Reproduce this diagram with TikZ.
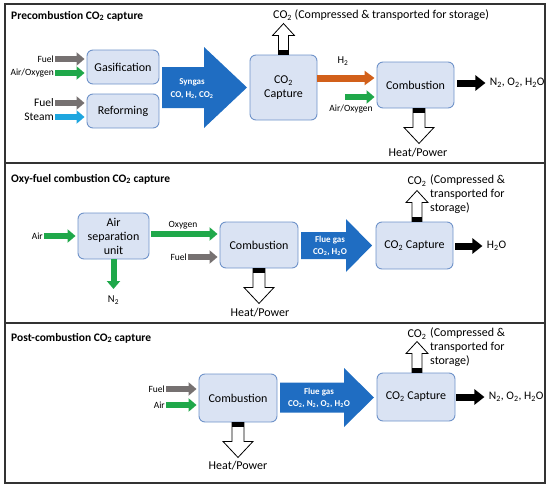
\documentclass[tikz,border=0pt]{standalone}
\usepackage{fontspec}
\setmainfont{Carlito}
\usetikzlibrary{arrows.meta, positioning}

\definecolor{boxfill}{HTML}{DAE3F3}
\definecolor{boxline}{HTML}{6F93C9}
\definecolor{flowblue}{HTML}{1F6DC2}
\definecolor{fuelgray}{HTML}{767171}
\definecolor{airgreen}{HTML}{1FA84A}
\definecolor{steamblue}{HTML}{1EA6DF}
\definecolor{htwoorange}{HTML}{D2601A}

\begin{document}
\begin{tikzpicture}[x=1pt,y=-1pt,
  unit/.style={draw=boxline,fill=boxfill,rounded corners=6pt,line width=0.9pt,align=center,inner sep=0pt,font=\fontsize{12}{14}\selectfont},
  small/.style={font=\fontsize{9.5}{11}\selectfont,inner sep=1pt},
  mid/.style={font=\fontsize{11.5}{13}\selectfont,inner sep=1pt},
  big/.style={font=\fontsize{12}{14}\selectfont,inner sep=0pt},
  title/.style={anchor=west,font=\bfseries\fontsize{11.5}{13}\selectfont,inner sep=0pt},
  flowtxt/.style={text=white,align=center,font=\bfseries\fontsize{9}{12.5}\selectfont,inner sep=0pt},
  feed/.style={line width=6pt,-{Triangle[length=8pt,width=13pt]},shorten >=2pt},
  heatout/.pic={
    \draw[fill=white,line width=0.8pt] (-6,0) -- (-6,19) -- (-15,19) -- (0,35) -- (15,19) -- (6,19) -- (6,0) -- cycle;
    \fill (-6,0) rectangle (6,5);
  },
  co2out/.pic={
    \draw[fill=white,line width=0.8pt] (-5,0) -- (-5,-19) -- (-11,-19) -- (0,-31) -- (11,-19) -- (5,-19) -- (5,0) -- cycle;
    \fill (-5,0) rectangle (5,-5);
  }]
\useasboundingbox (0,0) rectangle (550,490);

% panel frames
\foreach \ya/\yb in {4/163,163/323,323/483} {\draw[line width=1.2pt,black!80] (5,\ya) rectangle (545,\yb);}

% big flow arrows
\foreach \xa/\xh/\xb/\yc/\bh/\hh in {162/204/247/87.5/20.5/40.5,301/346/372/245.5/13.5/26.5,280/344/374/397.5/15/29.5}
  {\fill[flowblue] (\xa,\yc-\bh) -- (\xh,\yc-\bh) -- (\xh,\yc-\hh) -- (\xb,\yc) -- (\xh,\yc+\hh) -- (\xh,\yc+\bh) -- (\xa,\yc+\bh) -- cycle;}

%% Precombustion
\node[title] (t1) at (11,16) {Precombustion CO\textsubscript{2} capture};
\node[unit,minimum width=72pt,minimum height=34pt] (gas) at (123,67) {Gasification};
\node[unit,minimum width=72pt,minimum height=34pt] (ref) at (123,111) {Reforming};
\node[small,anchor=east] (fuelA) at (55,59) {Fuel};
\node[small,anchor=east] (airA) at (55,73) {Air/Oxygen};
\node[mid,anchor=east] (fuelB) at (55,103) {Fuel};
\node[mid,anchor=east] (steam) at (55,117) {Steam};
\draw[feed,fuelgray] (fuelA.east) -- (fuelA.east -| gas.west);
\draw[feed,airgreen] (airA.east) -- (airA.east -| gas.west);
\draw[feed,fuelgray] (fuelB.east) -- (fuelB.east -| ref.west);
\draw[feed,steamblue] (steam.east) -- (steam.east -| ref.west);
\node[flowtxt] (syn) at (192,88.5) {Syngas\\CO, H\textsubscript{2}, CO\textsubscript{2}};
\node[unit,minimum width=67pt,minimum height=65pt] (cap1) at (283.5,87.5) {CO\textsubscript{2}\\Capture};
\pic at (cap1.north) {co2out};
\node[big,anchor=west] (store1) at (273,15) {CO\textsubscript{2} (Compressed \& transported for storage)};
\node[unit,minimum width=77pt,minimum height=46pt] (comb1) at (415.5,85) {Combustion};
\node[small,font=\fontsize{10.5}{12}\selectfont] (h2) at (343,61) {H\textsubscript{2}};
\draw[feed,htwoorange,line width=7pt,-{Triangle[length=10pt,width=14pt]}] (cap1.east |- 0,78) -- (comb1.west |- 0,78);
\coordinate (airBs) at (345,97);
\draw[feed,airgreen] (airBs) -- (airBs -| comb1.west);
\node[small] (airB) at (351,109) {Air/Oxygen};
\draw[feed,black,line width=7pt,-{Triangle[length=10pt,width=15pt]},shorten >=0pt] ([xshift=3pt]comb1.east |- 0,83) -- ++(28,0) node[mid,anchor=west] (exh1) {N\textsubscript{2}, O\textsubscript{2}, H\textsubscript{2}O};
\pic at ([xshift=3.5pt]comb1.south) {heatout};
\node[big] (heat1) at (418,153) {Heat/Power};

%% Oxy-fuel
\node[title] (t2) at (11,179) {Oxy-fuel combustion CO\textsubscript{2} capture};
\node[unit,minimum width=71pt,minimum height=46pt] (asu) at (113.5,236) {Air\\separation\\unit};
\node[small,anchor=east] (airC) at (44,236) {Air};
\draw[feed,airgreen] (airC.east) -- (asu.west);
\coordinate (n2end) at (113.5,289);
\draw[feed,airgreen,shorten >=0pt] (asu.south) -- (n2end);
\node[small,font=\fontsize{10.5}{12}\selectfont] (n2B) at (113.5,300) {N\textsubscript{2}};
\node[unit,minimum width=78pt,minimum height=46pt] (comb2) at (259,245) {Combustion};
\draw[feed,airgreen] ([xshift=2pt]asu.east |- 0,234) -- (comb2.west |- 0,234);
\node[small] (oxy) at (183,225) {Oxygen};
\node[small,anchor=east] (fuelC) at (188,257) {Fuel};
\draw[feed,fuelgray] (fuelC.east) -- (fuelC.east -| comb2.west);
\pic at (comb2.south) {heatout};
\node[big] (heat2) at (260,313) {Heat/Power};
\node[flowtxt] (flue2) at (330,246) {Flue gas\\CO\textsubscript{2}, H\textsubscript{2}O};
\node[unit,minimum width=77pt,minimum height=47pt] (cap2) at (414.5,245.5) {CO\textsubscript{2} Capture};
\pic at ([xshift=2.5pt]cap2.north) {co2out};
\node[big] (co2B) at (417,182) {CO\textsubscript{2}};
\node[big,anchor=north west,align=left] (store2) at (430,175) {(Compressed \&\\transported for\\storage)};
\draw[feed,black,line width=7pt,-{Triangle[length=10pt,width=15pt]},shorten >=0pt] ([xshift=2pt]cap2.east |- 0,246) -- ++(27,0) node[mid,anchor=west] (exh2) {H\textsubscript{2}O};

%% Post-combustion
\node[title] (t3) at (11,338) {Post-combustion CO\textsubscript{2} capture};
\node[unit,minimum width=78pt,minimum height=48pt] (comb3) at (238,398) {Combustion};
\node[small,anchor=east] (fuelD) at (166,389) {Fuel};
\node[small,anchor=east] (airD) at (166,405) {Air};
\draw[feed,fuelgray] (fuelD.east) -- (fuelD.east -| comb3.west);
\draw[feed,airgreen] (airD.east) -- (airD.east -| comb3.west);
\pic at (comb3.south) {heatout};
\node[big] (heat3) at (238,466) {Heat/Power};
\node[flowtxt] (flue3) at (319,398) {Flue gas\\CO\textsubscript{2}, N\textsubscript{2}, O\textsubscript{2}, H\textsubscript{2}O};
\node[unit,minimum width=78pt,minimum height=48pt] (cap3) at (416,397) {CO\textsubscript{2} Capture};
\pic at ([xshift=1pt]cap3.north) {co2out};
\node[big] (co2C) at (417,335) {CO\textsubscript{2}};
\node[big,anchor=north west,align=left] (store3) at (430,328) {(Compressed \&\\transported for\\storage)};
\draw[feed,black,line width=7pt,-{Triangle[length=10pt,width=15pt]},shorten >=0pt] ([xshift=1pt]cap3.east |- 0,397) -- ++(28,0) node[mid,anchor=west] (exh3) {N\textsubscript{2}, O\textsubscript{2}, H\textsubscript{2}O};
\end{tikzpicture}
\end{document}
